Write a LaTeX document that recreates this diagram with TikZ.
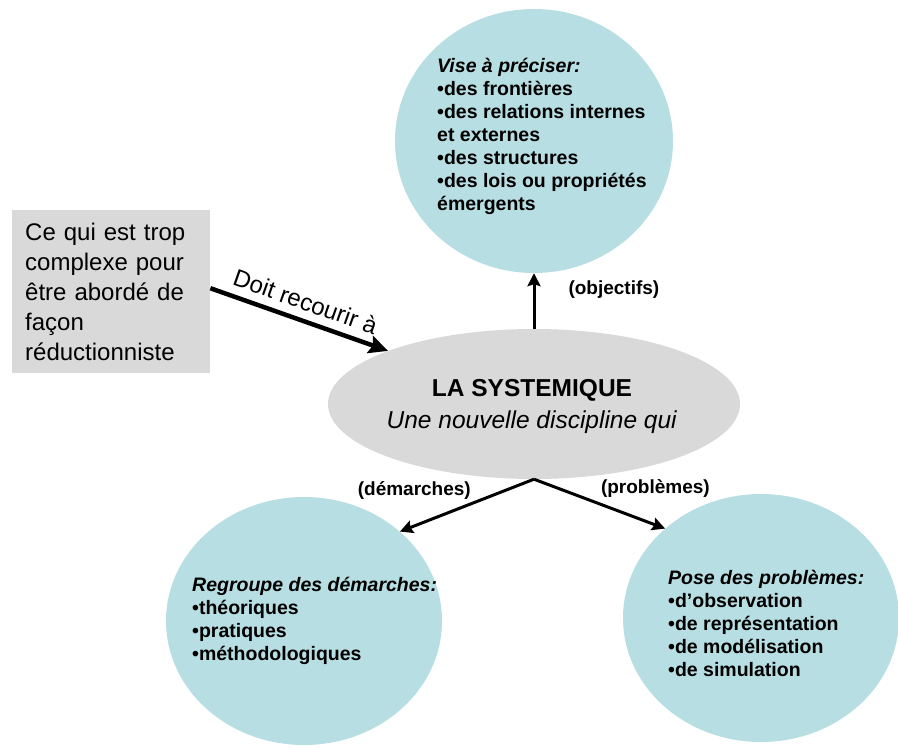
\documentclass[tikz,border=0pt]{standalone}
\usepackage{fontspec}
\setmainfont{Liberation Sans}
\usetikzlibrary{shapes.geometric,arrows.meta}
\definecolor{bubblefill}{RGB}{183,222,226}
\definecolor{themefill}{RGB}{217,217,217}

\begin{document}
\begin{tikzpicture}[x=1pt,y=-1pt]

  % Definitions
  \tikzstyle{Bubble} = [ellipse, fill=bubblefill, inner sep=0pt, minimum width=276pt, minimum height=248pt]
  \tikzstyle{Theme} = [ellipse, fill=themefill, inner sep=0pt, minimum width=412pt, minimum height=150pt]
  \tikzstyle{Box} = [rectangle, fill=themefill, anchor=north west, minimum width=198pt, minimum height=163pt, inner xsep=13pt, text width=172pt, align=left, font=\fontsize{24}{30}\selectfont]
  \tikzstyle{Note} = [anchor=west, inner sep=0pt, align=left, font=\bfseries\fontsize{19.5}{23}\selectfont]
  \tikzstyle{Tag} = [inner sep=0pt, font=\bfseries\fontsize{19}{23}\selectfont]
  \tikzstyle{arrow} = [line width=3pt,->,>={Stealth[length=13pt,width=13pt,inset=2pt]}]
  \tikzstyle{bigarrow} = [line width=4.5pt,->,>={Stealth[length=19pt,width=18pt,inset=3pt]}]

  \useasboundingbox (0,0) rectangle (898,749);

  \node (obj) [Bubble, minimum width=278pt, minimum height=264pt] at (534,141) {};
  \node (dem) [Bubble] at (304,621) {};
  \node (prob) [Bubble] at (761,618) {};
  \node (sys) [Theme] at (534,404) {};
  \node (box) [Box] at (12,210) {Ce qui est trop\\complexe pour\\être abordé de\\façon\\réductionniste};

  \node (systitle) [align=center, font=\fontsize{24.5}{32}\selectfont] at (532,406)
    {\textbf{LA SYSTEMIQUE}\\\textit{Une nouvelle discipline qui}};

  \node (objtext) [Note] at (437,136) {\textit{Vise à préciser:}\\•des frontières\\•des relations internes\\et externes\\•des structures\\•des lois ou propriétés\\émergents};
  \node (demtext) [Note] at (192,621) {\textit{Regroupe des démarches:}\\•théoriques\\•pratiques\\•méthodologiques};
  \node (probtext) [Note] at (668,623) {\textit{Pose des problèmes:}\\•d’observation\\•de représentation\\•de modélisation\\•de simulation};

  \draw [bigarrow] (box.2) -- node[sloped, above=8pt, inner sep=0pt, font=\fontsize{24}{30}\selectfont] {Doit recourir à} (sys.160);
  \draw [arrow] (sys.north) -- node[Tag, pos=0.7, anchor=west, xshift=33pt] {(objectifs)} (obj.south);
  \draw [arrow] (sys.south) -- node[Tag, pos=0.46, anchor=east, yshift=13pt] {(démarches)} (dem.43);
  \draw [arrow] (sys.south) -- node[Tag, pos=0.5, anchor=west, yshift=15pt] {(problèmes)} (prob.137);

\end{tikzpicture}
\end{document}
